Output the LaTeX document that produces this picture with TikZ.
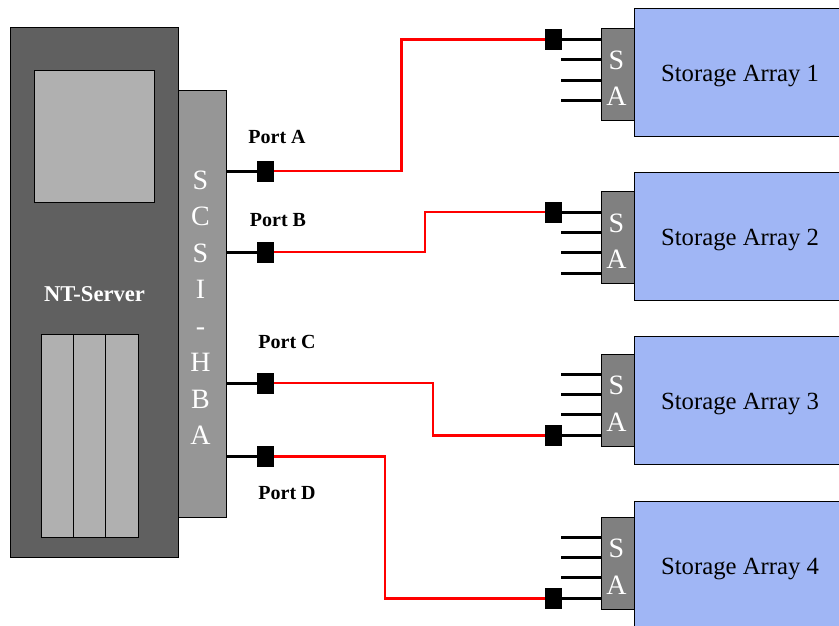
\documentclass[tikz,border=0pt]{standalone}
\usepackage{fontspec}
\setmainfont{Liberation Serif}

\definecolor{srvgray}{RGB}{96,96,96}
\definecolor{panelgray}{RGB}{176,176,176}
\definecolor{hbagray}{RGB}{150,150,150}
\definecolor{sagray}{RGB}{128,128,128}
\definecolor{arrayblue}{RGB}{160,182,245}

\begin{document}
\begin{tikzpicture}[x=1pt, y=-1pt]

  \tikzstyle{box}    = [draw=black, line width=0.8pt, rectangle, inner sep=0pt, outer sep=0pt]
  \tikzstyle{port}   = [fill=black, rectangle, inner sep=0pt, outer sep=0pt, minimum width=17pt, minimum height=21pt]
  \tikzstyle{lead}   = [black, line width=3pt]
  \tikzstyle{cable}  = [red, line width=2.7pt]
  \tikzstyle{plbl}   = [font=\bfseries\fontsize{20}{24}\selectfont]
  \tikzstyle{letters}= [white, align=center, inner sep=0pt, font=\fontsize{28}{36.5}\selectfont]

  \useasboundingbox (0,0) rectangle (839,625);

  % ---- SERVER ----
  \node[box, fill=srvgray, minimum width=168pt, minimum height=530pt] (srv) at (94,292) {};
  \node[box, fill=panelgray, minimum width=120pt, minimum height=132pt] (scr) at (94,136) {};
  \foreach \i/\x in {1/57.2, 2/89.5, 3/121.8}{
    \node[box, fill=panelgray, minimum width=32.3pt, minimum height=203pt] (slot\i) at (\x,435.5) {};
  }
  \node[white, font=\bfseries\fontsize{22.6}{27}\selectfont] (srvlbl) at (94.5,294) {NT-Server};

  % ---- HBA ----
  \node[box, fill=hbagray, minimum width=48pt, minimum height=427pt] (hba) at (202,303.5) {};
  \node[letters] (hbalbl) at (200.5,307.5) {S\\C\\S\\I\\-\\H\\B\\A};

  % ---- PORTS ----
  \foreach \p/\y/\lx/\ly in {A/171/277/137, B/252/278/220, C/383/287/342, D/456.5/287/493}{
    \node[port] (p\p) at (265.5,\y) {};
    \draw[lead] (p\p.west) -- (p\p.west -| hba.east);
    \node[plbl] (lbl\p) at (\lx,\ly) {Port \p};
  }

  % ---- STORAGE ARRAYS (SA centre, first stub, connected stub) ----
  \foreach \n/\a/\s/\t/\k in {1/72/74.5/39.5/0, 2/236/237.5/212/0, 3/400.5/400/374/3, 4/565/563/537/3}{
    \node[box, fill=arrayblue, minimum width=212pt, minimum height=128pt] (arr\n) at (740,\a) {};
    \node[font=\fontsize{24.7}{29}\selectfont] (arrlbl\n) at (740,\a+3.5) {Storage Array \n};
    \node[box, fill=sagray, minimum width=33pt, minimum height=92pt] (sa\n) at (617.5,\s) {};
    \node[letters] (salbl\n) at (616.5,\s+3.5) {S\\A};
    \foreach \j in {0,...,3}{
      \coordinate (stub\n\j) at (561,\t+20.4*\j);
      \draw[lead] (stub\n\j) -- (stub\n\j -| sa\n.west);
    }
    \node[port] (q\n) at ([xshift=-7.5pt]stub\n\k) {};
  }

  % ---- CABLES ----
  \draw[cable] (pA.east) -- ++(127.5,0) |- (q1.west);
  \draw[cable] (pB.east) -- ++(151,0) |- (q2.west);
  \draw[cable] (pC.east) -- ++(159,0) |- (q3.west);
  \draw[cable] (pD.east) -- ++(111,0) |- (q4.west);

\end{tikzpicture}
\end{document}
